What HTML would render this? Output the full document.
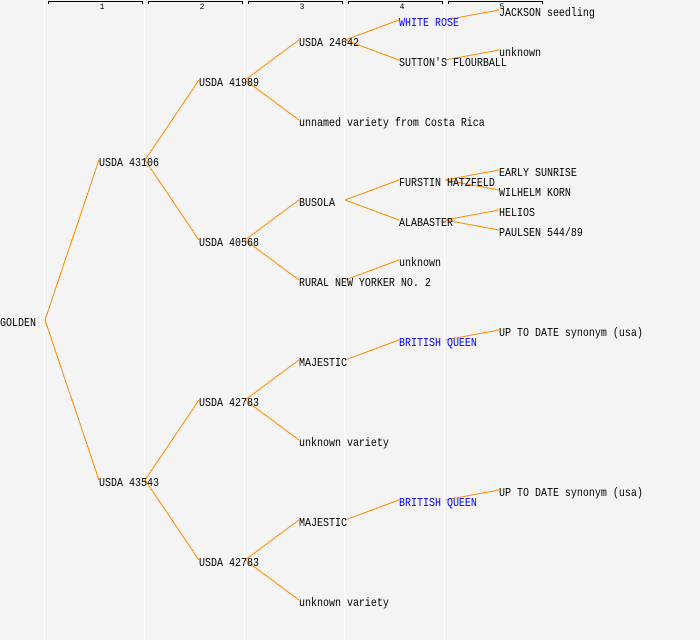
<!DOCTYPE html>
<html>
<head>
<meta charset="utf-8">
<style>
html,body{margin:0;padding:0;background:#f4f4f4;}
svg{display:block;}
text{font-family:"Liberation Mono","DejaVu Sans Mono",monospace;font-size:12px;fill:#000;}
.b{fill:#0000ff;}
.n{font-size:8px;text-anchor:middle;}
.e line{stroke:#ff8c00;stroke-width:1;}
.g line{stroke:#ffffff;stroke-width:1;}
.k path{stroke:#000;stroke-width:1;fill:none;}
</style>
</head>
<body>
<svg width="700" height="640" viewBox="0 0 700 640" xmlns="http://www.w3.org/2000/svg">
<rect width="700" height="640" fill="#f4f4f4"/>
<g class="g" shape-rendering="crispEdges">
<line x1="44.5" y1="0" x2="44.5" y2="640"/>
<line x1="144.5" y1="0" x2="144.5" y2="640"/>
<line x1="244.5" y1="0" x2="244.5" y2="640"/>
<line x1="344.5" y1="0" x2="344.5" y2="640"/>
<line x1="444.5" y1="0" x2="444.5" y2="640"/>
</g>
<g class="k" shape-rendering="crispEdges">
<path d="M48.5 4V1.5H142.5V4"/>
<path d="M148.5 4V1.5H242.5V4"/>
<path d="M248.5 4V1.5H342.5V4"/>
<path d="M348.5 4V1.5H442.5V4"/>
<path d="M448.5 4V1.5H542.5V4"/>
</g>
<text class="n" x="102" y="9">1</text>
<text class="n" x="202" y="9">2</text>
<text class="n" x="302" y="9">3</text>
<text class="n" x="402" y="9">4</text>
<text class="n" x="502" y="9">5</text>
<g class="e" shape-rendering="crispEdges">
<line x1="45" y1="320" x2="99" y2="160"/>
<line x1="45" y1="320" x2="99" y2="480"/>
<line x1="145" y1="160" x2="199" y2="80"/>
<line x1="145" y1="160" x2="199" y2="240"/>
<line x1="145" y1="480" x2="199" y2="400"/>
<line x1="145" y1="480" x2="199" y2="560"/>
<line x1="245" y1="80" x2="299" y2="40"/>
<line x1="245" y1="80" x2="299" y2="120"/>
<line x1="245" y1="240" x2="299" y2="200"/>
<line x1="245" y1="240" x2="299" y2="280"/>
<line x1="245" y1="400" x2="299" y2="360"/>
<line x1="245" y1="400" x2="299" y2="440"/>
<line x1="245" y1="560" x2="299" y2="520"/>
<line x1="245" y1="560" x2="299" y2="600"/>
<line x1="345" y1="40" x2="399" y2="20"/>
<line x1="345" y1="40" x2="399" y2="60"/>
<line x1="345" y1="200" x2="399" y2="180"/>
<line x1="345" y1="200" x2="399" y2="220"/>
<line x1="345" y1="280" x2="399" y2="260"/>
<line x1="345" y1="360" x2="399" y2="340"/>
<line x1="345" y1="520" x2="399" y2="500"/>
<line x1="445" y1="20" x2="499" y2="10"/>
<line x1="445" y1="60" x2="499" y2="50"/>
<line x1="445" y1="180" x2="499" y2="170"/>
<line x1="445" y1="180" x2="499" y2="190"/>
<line x1="445" y1="220" x2="499" y2="210"/>
<line x1="445" y1="220" x2="499" y2="230"/>
<line x1="445" y1="340" x2="499" y2="330"/>
<line x1="445" y1="500" x2="499" y2="490"/>
</g>
<text transform="matrix(.8333 0 0 1 0 326)">GOLDEN</text>
<text transform="matrix(.8333 0 0 1 99 166)">USDA 43106</text>
<text transform="matrix(.8333 0 0 1 99 486)">USDA 43543</text>
<text transform="matrix(.8333 0 0 1 199 86)">USDA 41989</text>
<text transform="matrix(.8333 0 0 1 199 246)">USDA 40568</text>
<text transform="matrix(.8333 0 0 1 199 406)">USDA 42783</text>
<text transform="matrix(.8333 0 0 1 199 566)">USDA 42783</text>
<text transform="matrix(.8333 0 0 1 299 46)">USDA 24642</text>
<text transform="matrix(.8333 0 0 1 299 126)">unnamed variety from Costa Rica</text>
<text transform="matrix(.8333 0 0 1 299 206)">BUSOLA</text>
<text transform="matrix(.8333 0 0 1 299 286)">RURAL NEW YORKER NO. 2</text>
<text transform="matrix(.8333 0 0 1 299 366)">MAJESTIC</text>
<text transform="matrix(.8333 0 0 1 299 446)">unknown variety</text>
<text transform="matrix(.8333 0 0 1 299 526)">MAJESTIC</text>
<text transform="matrix(.8333 0 0 1 299 606)">unknown variety</text>
<text class="b" transform="matrix(.8333 0 0 1 399 26)">WHITE ROSE</text>
<text transform="matrix(.8333 0 0 1 399 66)">SUTTON'S FLOURBALL</text>
<text transform="matrix(.8333 0 0 1 399 186)">FURSTIN HATZFELD</text>
<text transform="matrix(.8333 0 0 1 399 226)">ALABASTER</text>
<text transform="matrix(.8333 0 0 1 399 266)">unknown</text>
<text class="b" transform="matrix(.8333 0 0 1 399 346)">BRITISH QUEEN</text>
<text class="b" transform="matrix(.8333 0 0 1 399 506)">BRITISH QUEEN</text>
<text transform="matrix(.8333 0 0 1 499 16)">JACKSON seedling</text>
<text transform="matrix(.8333 0 0 1 499 56)">unknown</text>
<text transform="matrix(.8333 0 0 1 499 176)">EARLY SUNRISE</text>
<text transform="matrix(.8333 0 0 1 499 196)">WILHELM KORN</text>
<text transform="matrix(.8333 0 0 1 499 216)">HELIOS</text>
<text transform="matrix(.8333 0 0 1 499 236)">PAULSEN 544/89</text>
<text transform="matrix(.8333 0 0 1 499 336)">UP TO DATE synonym (usa)</text>
<text transform="matrix(.8333 0 0 1 499 496)">UP TO DATE synonym (usa)</text>
</svg>
</body>
</html>
